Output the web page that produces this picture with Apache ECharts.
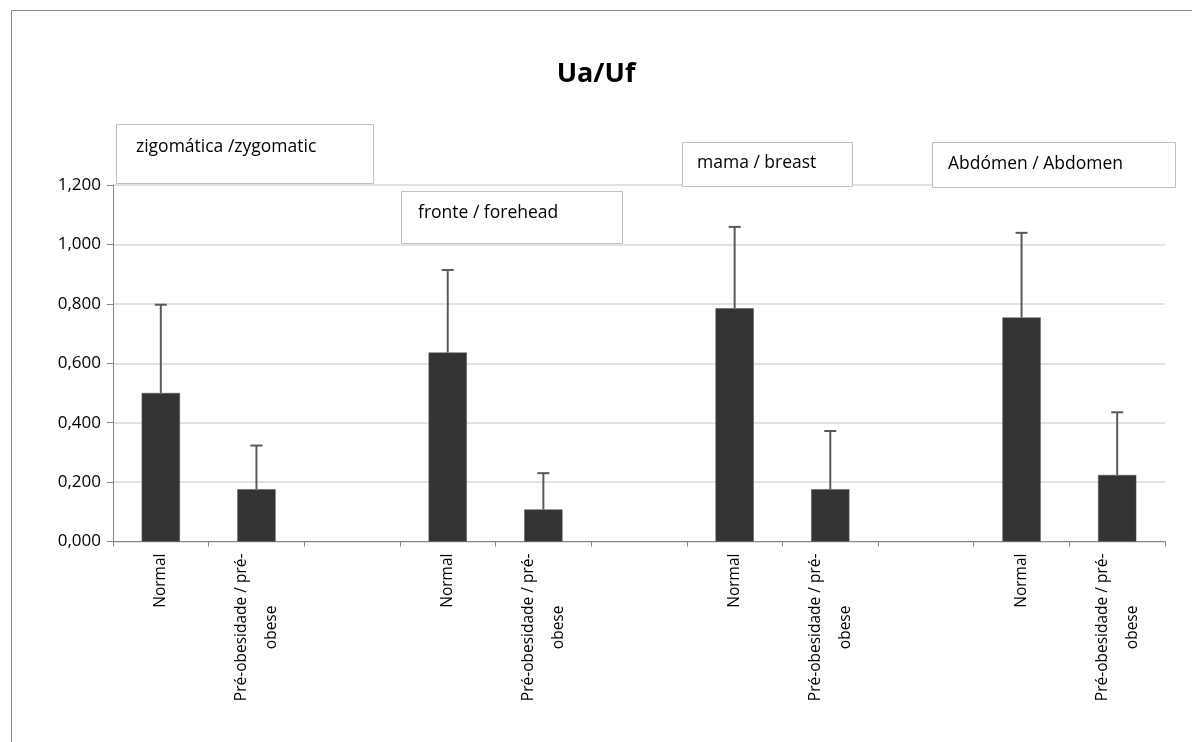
<!DOCTYPE html>
<html>
<head>
<meta charset="utf-8">
<script src="https://cdn.jsdelivr.net/npm/echarts@6/dist/echarts.min.js"></script>
<style>
  html, body { margin: 0; padding: 0; background: #fff; }
  #chart { width: 1192px; height: 742px; }
</style>
</head>
<body>
<div id="chart"></div>
<script>
// ---- data ----
var categories = ['Normal', 'Pré-obesidade / pré-\nobese', '',
                  'Normal', 'Pré-obesidade / pré-\nobese', '',
                  'Normal', 'Pré-obesidade / pré-\nobese', '',
                  'Normal', 'Pré-obesidade / pré-\nobese'];
var meanValues = [0.500, 0.176, null, 0.636, 0.108, null, 0.785, 0.176, null, 0.754, 0.224];
var sdValues   = [0.297, 0.147, null, 0.278, 0.122, null, 0.274, 0.196, null, 0.285, 0.211];
var regionLabels = ['zigomática /zygomatic', 'fronte / forehead', 'mama / breast', 'Abdómen / Abdomen'];
var titleText = 'Ua/Uf';

var errorData = [];
for (var i = 0; i < meanValues.length; i++) {
  if (meanValues[i] != null) errorData.push([i, meanValues[i], meanValues[i] + sdValues[i]]);
}

var FONT = 'Open Sans, Liberation Sans, sans-serif';
var CAT_FS = 15.5;

function measure(text, font) {
  var c = document.createElement('canvas').getContext('2d');
  c.font = font;
  return Math.ceil(c.measureText(text).width);
}

function box(x, y, w, h, text, tx, ty) {
  return [
    { type: 'rect', left: x, top: y, shape: { width: w, height: h },
      style: { fill: '#fff', stroke: '#bfbfbf', lineWidth: 1 }, z: 10 },
    { type: 'text', left: x + tx, top: y + ty,
      style: { text: text, fill: '#000', font: '17.5px ' + FONT }, z: 11 }
  ];
}

var chart = echarts.init(document.getElementById('chart'));
var option = {
  animation: false,
  backgroundColor: '#fff',
  title: {
    text: titleText, left: 'center', top: 56,
    textStyle: { fontSize: 27, fontWeight: 'bold', color: '#000', fontFamily: FONT }
  },
  grid: { left: 113, right: 27, top: 185, bottom: 200.5, containLabel: false },
  xAxis: {
    type: 'category', data: categories,
    axisLine: { lineStyle: { color: '#868686', width: 1 } },
    axisTick: { show: true, length: 5, alignWithLabel: false, lineStyle: { color: '#868686' } },
    axisLabel: {
      interval: 0, rotate: 90, margin: 12, color: '#000', fontSize: CAT_FS, fontFamily: FONT,
      lineHeight: 30,
      formatter: function (v) {
        if (!v) return '';
        var lines = v.split('\n');
        if (lines.length === 1) return v;
        return lines.map(function (s) { return '{c' + '|' + s + '}'; }).join('\n');
      },
      rich: { c: { align: 'center', fontSize: CAT_FS, fontFamily: FONT, color: '#000', lineHeight: 30 } }
    }
  },
  yAxis: {
    type: 'value', min: 0, max: 1.2, interval: 0.2,
    axisLine: { show: true, lineStyle: { color: '#868686' } },
    axisTick: { show: true, length: 6, lineStyle: { color: '#868686' } },
    splitLine: { lineStyle: { color: '#d9d9d9', width: 1.5 } },
    axisLabel: {
      margin: 12, color: '#000', fontSize: 17, fontFamily: FONT,
      formatter: function (v) { return v.toFixed(3).replace('.', ','); }
    }
  },
  series: [
    {
      type: 'bar', data: meanValues, barWidth: '40%',
      itemStyle: { color: '#333333', borderColor: '#555', borderWidth: 0.5 }
    },
    {
      type: 'custom', data: errorData, z: 5,
      renderItem: function (params, api) {
        var x = api.value(0);
        var base = api.coord([x, api.value(1)]);
        var top = api.coord([x, api.value(2)]);
        var cap = 6;
        return {
          type: 'group',
          children: [
            { type: 'line', shape: { x1: base[0], y1: base[1], x2: top[0], y2: top[1] },
              style: { stroke: '#595959', lineWidth: 2 } },
            { type: 'line', shape: { x1: top[0] - cap, y1: top[1], x2: top[0] + cap, y2: top[1] },
              style: { stroke: '#595959', lineWidth: 2 } }
          ]
        };
      }
    }
  ],
  graphic: [
    { type: 'rect', left: 9, top: 8, shape: { width: 1300, height: 900 },
      style: { fill: 'none', stroke: '#868686', lineWidth: 1 }, z: 0, silent: true }
  ].concat(
    box(116, 124, 257, 59, regionLabels[0], 20, 14),
    box(401, 191, 221, 52, regionLabels[1], 17, 13),
    box(682, 142, 170, 44, regionLabels[2], 15, 12),
    box(932, 142, 243, 45, regionLabels[3], 16, 13)
  )
};
chart.setOption(option);
</script>
</body>
</html>
